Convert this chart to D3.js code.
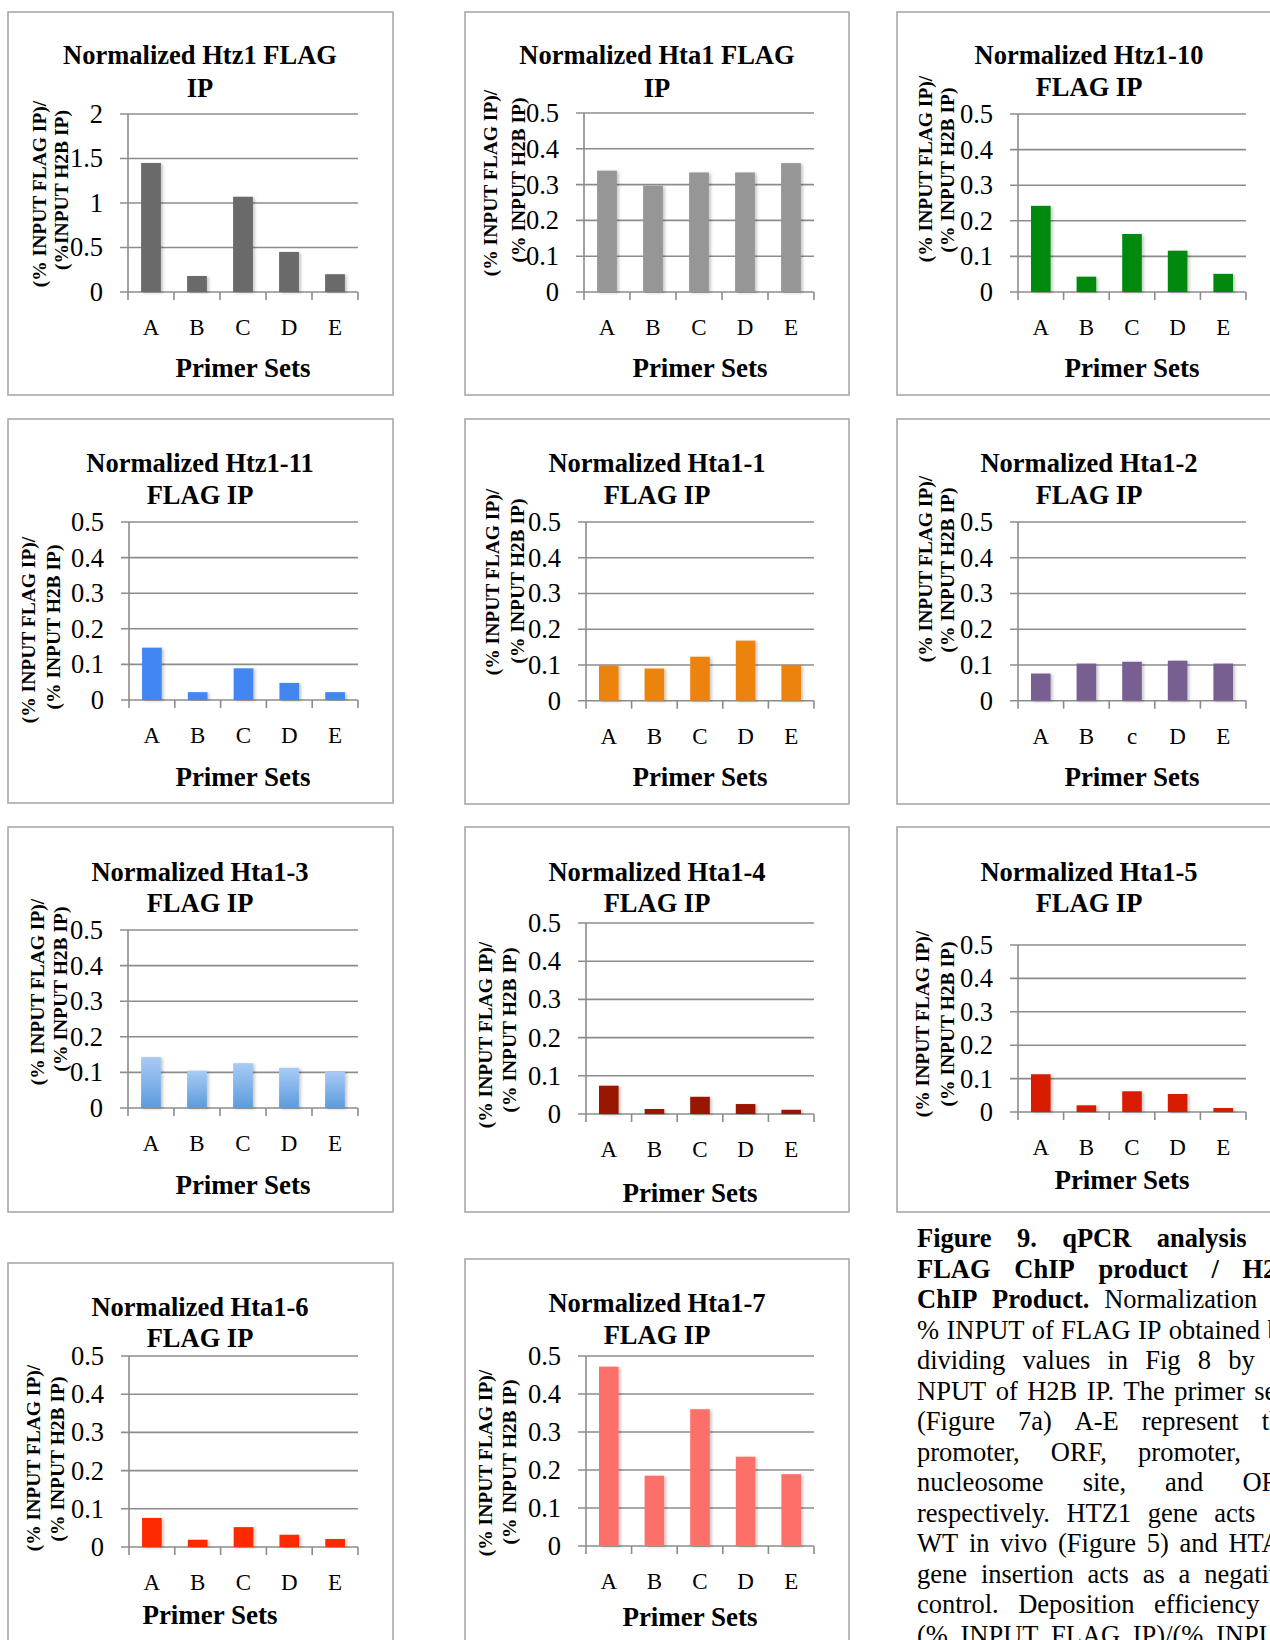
<!DOCTYPE html>
<html>
<head>
<meta charset="utf-8">
<script src="https://cdn.jsdelivr.net/npm/d3@7"></script>
<style>
  html, body { margin: 0; padding: 0; background: #fff; }
  svg { display: block; font-family: "Liberation Serif", "Times New Roman", serif; }
</style>
</head>
<body>
<svg id="fig" width="1270" height="1640"></svg>
<script>
// ---- data ----
const primerSets = ["A", "B", "C", "D", "E"];
const primerSetsHta12 = ["A", "B", "c", "D", "E"];
const ticksHtz1 = [0, 0.5, 1, 1.5, 2];
const ticksDefault = [0, 0.1, 0.2, 0.3, 0.4, 0.5];

const htz1   = [1.45, 0.18, 1.07, 0.45, 0.20];
const hta1   = [0.339, 0.297, 0.334, 0.334, 0.360];
const htz1_10 = [0.242, 0.043, 0.163, 0.116, 0.051];
const htz1_11 = [0.147, 0.022, 0.089, 0.048, 0.022];
const hta1_1 = [0.098, 0.090, 0.123, 0.168, 0.100];
const hta1_2 = [0.076, 0.104, 0.109, 0.112, 0.104];
const hta1_3 = [0.143, 0.105, 0.126, 0.113, 0.102];
const hta1_4 = [0.074, 0.013, 0.045, 0.026, 0.011];
const hta1_5 = [0.113, 0.020, 0.062, 0.054, 0.012];
const hta1_6 = [0.076, 0.019, 0.052, 0.032, 0.021];
const hta1_7 = [0.472, 0.185, 0.360, 0.235, 0.189];

const yTitleHtz1 = ["(% INPUT FLAG IP)/", "(%INPUT H2B IP)"];
const yTitleStd  = ["(% INPUT FLAG IP)/", "(% INPUT H2B IP)"];
const xTitle = "Primer Sets";

// ---- panel definitions ----
const panels = [
  { title: ["Normalized Htz1 FLAG", "IP"], values: htz1, cats: primerSets, ticks: ticksHtz1, yMax: 2, fill: "#6a6a6a", yTitle: yTitleHtz1 },
  { title: ["Normalized Hta1 FLAG", "IP"], values: hta1, cats: primerSets, ticks: ticksDefault, yMax: 0.5, fill: "#969696", yTitle: yTitleStd },
  { title: ["Normalized Htz1-10", "FLAG IP"], values: htz1_10, cats: primerSets, ticks: ticksDefault, yMax: 0.5, fill: "#068a0c", yTitle: yTitleStd },
  { title: ["Normalized Htz1-11", "FLAG IP"], values: htz1_11, cats: primerSets, ticks: ticksDefault, yMax: 0.5, fill: "#4286f4", yTitle: yTitleStd },
  { title: ["Normalized Hta1-1", "FLAG IP"], values: hta1_1, cats: primerSets, ticks: ticksDefault, yMax: 0.5, fill: "#eb830c", yTitle: yTitleStd },
  { title: ["Normalized Hta1-2", "FLAG IP"], values: hta1_2, cats: primerSetsHta12, ticks: ticksDefault, yMax: 0.5, fill: "#776191", yTitle: yTitleStd },
  { title: ["Normalized Hta1-3", "FLAG IP"], values: hta1_3, cats: primerSets, ticks: ticksDefault, yMax: 0.5, fill: "url(#lightBlue)", yTitle: yTitleStd },
  { title: ["Normalized Hta1-4", "FLAG IP"], values: hta1_4, cats: primerSets, ticks: ticksDefault, yMax: 0.5, fill: "#991204", yTitle: yTitleStd },
  { title: ["Normalized Hta1-5", "FLAG IP"], values: hta1_5, cats: primerSets, ticks: ticksDefault, yMax: 0.5, fill: "#d81f05", yTitle: yTitleStd },
  { title: ["Normalized Hta1-6", "FLAG IP"], values: hta1_6, cats: primerSets, ticks: ticksDefault, yMax: 0.5, fill: "#fd2b02", yTitle: yTitleStd },
  { title: ["Normalized Hta1-7", "FLAG IP"], values: hta1_7, cats: primerSets, ticks: ticksDefault, yMax: 0.5, fill: "#fd706b", yTitle: yTitleStd }
];

// ---- panel geometry (frame, plot area, text anchors) ----
const layouts = [
  { box: [8, 12, 393, 395],   x0: 128,  x1: 358,  yTop: 114,  yZero: 292,   tx: 200,  ty: [55, 88],     ytx: [39, 61],   yty: [194, 190],   xtx: 243,  xty: 368 },
  { box: [465, 12, 849, 395], x0: 584,  x1: 814,  yTop: 113,  yZero: 292,   tx: 657,  ty: [55, 88],     ytx: [490, 518], yty: [183, 180],   xtx: 700,  xty: 368 },
  { box: [897, 12, 1290, 395],x0: 1018, x1: 1246, yTop: 114,  yZero: 292,   tx: 1089, ty: [55, 87],     ytx: [925, 947], yty: [169, 170],   xtx: 1132, xty: 368 },
  { box: [8, 419, 393, 803],  x0: 129,  x1: 358,  yTop: 522,  yZero: 700,   tx: 200,  ty: [463, 495],   ytx: [28, 53],   yty: [630, 627],   xtx: 243,  xty: 777 },
  { box: [465, 419, 849, 804],x0: 586,  x1: 814,  yTop: 522,  yZero: 700.7, tx: 657,  ty: [463, 495],   ytx: [492, 517], yty: [582, 581],   xtx: 700,  xty: 777 },
  { box: [897, 419, 1290, 804],x0: 1018,x1: 1246, yTop: 522,  yZero: 700.7, tx: 1089, ty: [463, 495],   ytx: [925, 947], yty: [569, 570],   xtx: 1132, xty: 777 },
  { box: [8, 827, 393, 1212], x0: 128,  x1: 358,  yTop: 930,  yZero: 1108,  tx: 200,  ty: [872, 903],   ytx: [37, 60],   yty: [992, 989],   xtx: 243,  xty: 1185 },
  { box: [465, 827, 849, 1212],x0: 586, x1: 814,  yTop: 923,  yZero: 1114,  tx: 657,  ty: [872, 903],   ytx: [485, 509], yty: [1035, 1030], xtx: 690,  xty: 1193 },
  { box: [897, 827, 1290, 1212],x0: 1018,x1: 1246,yTop: 945,  yZero: 1112,  tx: 1089, ty: [872, 903],   ytx: [922, 947], yty: [1024, 1024], xtx: 1122, xty: 1180 },
  { box: [8, 1263, 393, 1660],x0: 129,  x1: 358,  yTop: 1356, yZero: 1547,  tx: 200,  ty: [1307, 1338], ytx: [33, 57],   yty: [1458, 1459], xtx: 210,  xty: 1615 },
  { box: [465, 1259, 849, 1660],x0: 586,x1: 814,  yTop: 1356, yZero: 1546,  tx: 657,  ty: [1303, 1335], ytx: [485, 509], yty: [1463, 1462], xtx: 690,  xty: 1617 }
];

const FONT = '"Liberation Serif", "Times New Roman", serif';
const GRID = "#8c8c8c";
const svg = d3.select("#fig");
svg.append("rect").attr("width", 1270).attr("height", 1640).attr("fill", "#fff");

const defs = svg.append("defs");
const grad = defs.append("linearGradient").attr("id", "lightBlue")
  .attr("x1", 0).attr("y1", 0).attr("x2", 0).attr("y2", 1);
grad.append("stop").attr("offset", "0%").attr("stop-color", "#a9cbf5");
grad.append("stop").attr("offset", "100%").attr("stop-color", "#5b9bdd");
defs.append("filter").attr("id", "barShadow").attr("x", "-20%").attr("y", "-5%").attr("width", "150%").attr("height", "115%")
  .append("feDropShadow").attr("dx", 2).attr("dy", 1).attr("stdDeviation", 1.4)
  .attr("flood-color", "#000").attr("flood-opacity", 0.22);

panels.forEach((p, k) => {
  const L = layouts[k];
  const g = svg.append("g");

  // frame
  g.append("rect")
    .attr("x", L.box[0]).attr("y", L.box[1])
    .attr("width", L.box[2] - L.box[0]).attr("height", L.box[3] - L.box[1])
    .attr("fill", "none").attr("stroke", "#a8a8a8").attr("stroke-width", 1.6);

  const x = d3.scaleBand().domain(p.cats).range([L.x0, L.x1])
    .paddingInner(0.57).paddingOuter(0.285);
  const y = d3.scaleLinear().domain([0, p.yMax]).range([L.yZero, L.yTop]);

  // horizontal gridlines with outward ticks
  g.selectAll("line.grid").data(p.ticks).join("line")
    .attr("class", "grid")
    .attr("x1", L.x0 - 8).attr("x2", L.x1)
    .attr("y1", d => y(d)).attr("y2", d => y(d))
    .attr("stroke", GRID).attr("stroke-width", 1.6);

  // vertical axis line
  g.append("line")
    .attr("x1", L.x0).attr("x2", L.x0)
    .attr("y1", y(p.yMax)).attr("y2", y(0) + 8)
    .attr("stroke", GRID).attr("stroke-width", 1.6);

  // category boundary ticks
  const bounds = d3.range(p.cats.length + 1).map(i => L.x0 + i * x.step());
  g.selectAll("line.ctick").data(bounds.slice(1)).join("line")
    .attr("class", "ctick")
    .attr("x1", d => d).attr("x2", d => d)
    .attr("y1", y(0)).attr("y2", y(0) + 8)
    .attr("stroke", GRID).attr("stroke-width", 1.6);

  // bars
  g.selectAll("rect.bar").data(p.values).join("rect")
    .attr("class", "bar")
    .attr("x", (d, i) => x(p.cats[i]))
    .attr("width", x.bandwidth())
    .attr("y", d => y(d))
    .attr("height", d => y(0) - y(d))
    .attr("fill", p.fill)
    .attr("filter", "url(#barShadow)");

  // value axis labels
  const ay = g.append("g").attr("transform", `translate(${L.x0},0)`)
    .call(d3.axisLeft(y).tickValues(p.ticks).tickSize(0).tickPadding(25).tickFormat(d => String(d)));
  ay.select(".domain").remove();
  ay.selectAll("text").attr("font-family", FONT).attr("font-size", 26.5).attr("fill", "#000");

  // category labels
  const ax = g.append("g").attr("transform", `translate(0,${L.yZero})`)
    .call(d3.axisBottom(x).tickSize(0).tickPadding(27));
  ax.select(".domain").remove();
  ax.selectAll("text").attr("font-family", FONT).attr("font-size", 23).attr("fill", "#000");

  // title
  g.selectAll("text.title").data(p.title).join("text")
    .attr("class", "title")
    .attr("x", L.tx).attr("y", (d, i) => L.ty[i]).attr("dy", "0.35em")
    .attr("text-anchor", "middle").attr("font-family", FONT)
    .attr("font-weight", "bold").attr("font-size", 26.5)
    .text(d => d);

  // value axis title (two rotated lines)
  g.selectAll("text.ytitle").data(p.yTitle).join("text")
    .attr("class", "ytitle")
    .attr("transform", (d, i) => `translate(${L.ytx[i]},${L.yty[i]}) rotate(-90)`)
    .attr("dy", "0.35em")
    .attr("text-anchor", "middle").attr("font-family", FONT)
    .attr("font-weight", "bold").attr("font-size", 19.5)
    .text(d => d);

  // category axis title
  g.append("text")
    .attr("x", L.xtx).attr("y", L.xty).attr("dy", "0.35em")
    .attr("text-anchor", "middle").attr("font-family", FONT)
    .attr("font-weight", "bold").attr("font-size", 27)
    .text(xTitle);
});

// ---- figure caption (justified column) ----
const captionLines = [
  [["Figure 9. qPCR analysis of", true]],
  [["FLAG ChIP product / H2B", true]],
  [["ChIP Product.", true], ["Normalization of", false]],
  [["% INPUT of FLAG IP obtained by", false]],
  [["dividing values in Fig 8 by %", false]],
  [["NPUT of H2B IP. The primer sets", false]],
  [["(Figure 7a) A-E represent the", false]],
  [["promoter, ORF, promoter, -1", false]],
  [["nucleosome site, and ORF", false]],
  [["respectively. HTZ1 gene acts as", false]],
  [["WT in vivo (Figure 5) and HTA1", false]],
  [["gene insertion acts as a negative", false]],
  [["control. Deposition efficiency =", false]],
  [["(% INPUT FLAG IP)/(% INPUT", false]]
];
const capLeft = 917, capRight = 1294, capBase = 1247, capStep = 30.5, capSize = 26.5;
const cap = svg.append("g").attr("font-family", FONT).attr("font-size", capSize).attr("fill", "#000");

captionLines.forEach((segs, li) => {
  const words = [];
  segs.forEach(([txt, bold]) => txt.split(" ").forEach(w => words.push({ w, bold })));
  const nodes = words.map(o => cap.append("text")
    .attr("y", capBase + li * capStep)
    .attr("font-weight", o.bold ? "bold" : "normal")
    .text(o.w));
  const widths = nodes.map(n => n.node().getComputedTextLength());
  const total = d3.sum(widths);
  const gap = words.length > 1 ? (capRight - capLeft - total) / (words.length - 1) : 0;
  let cx = capLeft;
  nodes.forEach((n, i) => { n.attr("x", cx); cx += widths[i] + gap; });
});
</script>
</body>
</html>
